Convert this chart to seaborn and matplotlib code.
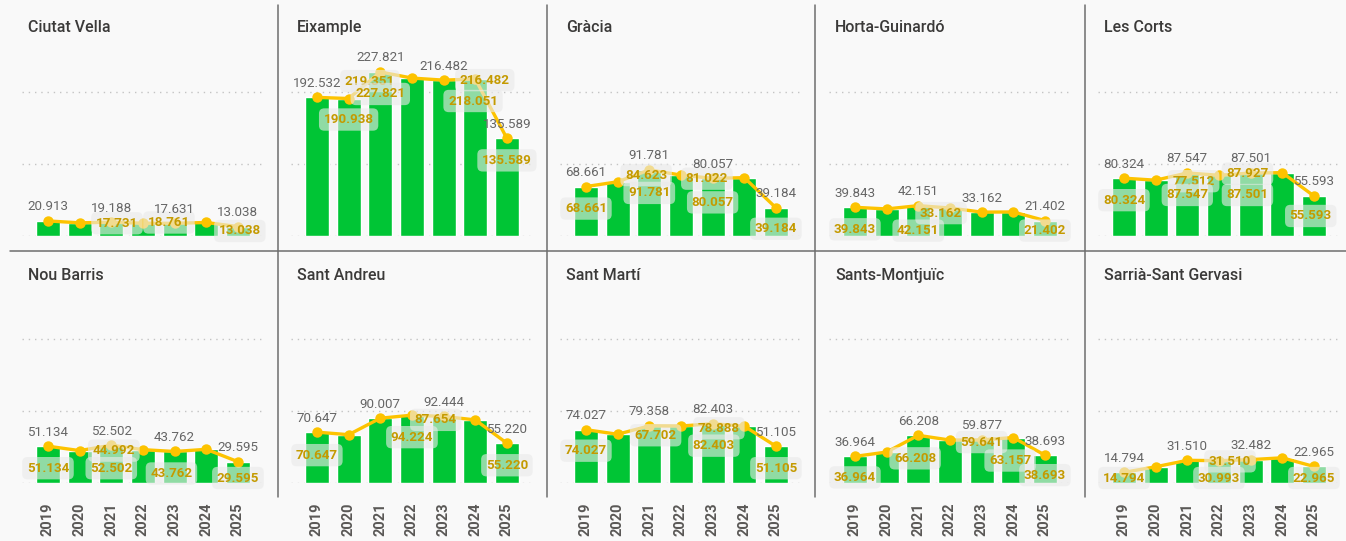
import matplotlib
matplotlib.use("Agg")
import matplotlib.pyplot as plt
from matplotlib.lines import Line2D
import seaborn as sns
import pandas as pd
import numpy as np

# ---------------- data ----------------
years = ["2019", "2020", "2021", "2022", "2023", "2024", "2025"]
districts = ["Ciutat Vella", "Eixample", "Gràcia", "Horta-Guinardó", "Les Corts",
             "Nou Barris", "Sant Andreu", "Sant Martí", "Sants-Montjuïc", "Sarrià-Sant Gervasi"]

ciutat_vella = [20913, 18300, 19188, 17731, 17631, 18761, 13038]
eixample = [192532, 190938, 227821, 219351, 216482, 218051, 135589]
gracia = [68661, 75300, 91781, 84623, 80057, 81022, 39184]
horta_guinardo = [39843, 37600, 42151, 38900, 33162, 33400, 21402]
les_corts = [80324, 77512, 87547, 84300, 87501, 87927, 55593]
nou_barris = [51134, 44992, 52502, 46300, 43762, 46800, 29595]
sant_andreu = [70647, 67100, 90007, 94224, 92444, 87654, 55220]
sant_marti = [74027, 67702, 79358, 79100, 82403, 78888, 51105]
sants_montjuic = [36964, 43000, 66208, 59641, 59877, 63157, 38693]
sarria_sant_gervasi = [14794, 22500, 31510, 30993, 32482, 35000, 22965]

series = [ciutat_vella, eixample, gracia, horta_guinardo, les_corts,
          nou_barris, sant_andreu, sant_marti, sants_montjuic, sarria_sant_gervasi]

# bar labels shown (indices)
bar_label_idx = [0, 2, 4, 6]

# line-label layout: (point index, x shift in category units, downward shift in px)
line_label_layout = [
    [(3, -0.82, 0), (5, -1.18, 0), (6, 0.06, 5)],
    [(3, -1.33, 3), (2, 0, 22), (1, 0, 21), (4, 1.3, 0), (5, -0.07, 22), (6, 0, 22)],
    [(3, -1.1, 0), (5, -1.18, 1), (0, 0, 22), (2, 0, 23), (4, 0, 24), (6, 0, 21)],
    [(0, 0, 22), (2, 0, 25), (4, -1.28, 1), (6, 0, 10)],
    [(1, 1.2, 1), (5, -1.1, 1), (0, 0, 22), (2, 0, 22), (4, -0.1, 22), (6, -0.1, 20)],
    [(0, 0, 22), (1, 1.08, 0), (2, 0, 23), (4, -0.1, 22), (6, 0, 17)],
    [(0, 0, 23), (3, 0, 22), (5, -1.25, 0), (6, 0, 22)],
    [(0, 0, 21), (1, 1.2, 1), (4, 0.04, 22), (5, -0.8, 2), (6, 0, 22)],
    [(0, 0, 21), (2, -0.1, 23), (3, 1.0, 2), (5, -0.1, 23), (6, 0, 20)],
    [(0, 0, 9), (2, 1.35, 1), (3, 0, 18), (6, 0, 13)],
]

# ---------------- style ----------------
BG = "#F9F9F9"
GREEN = "#00C535"
LINE = "#FDC300"
LINE_TXT = "#C49A00"
GRAY_TXT = "#666666"
TITLE = "#3B3A39"
SEP = "#6E6E6E"

sns.set_theme(style="white")
plt.rcParams["font.family"] = ["Roboto", "DejaVu Sans"]

W, H = 1346, 541
fig = plt.figure(figsize=(W / 100, H / 100), dpi=100, facecolor=BG)


def fmt(v):
    return f"{v:,}".replace(",", ".")


for k, (name, vals) in enumerate(zip(districts, series)):
    row, col = divmod(k, 5)
    base = 236 if row == 0 else 483
    ax = fig.add_axes([(col * 269 + 22) / W, (H - base) / H, 240 / W, 180 / H])
    ax.set_facecolor("none")

    df = pd.DataFrame({"year": years, "value": vals})
    sns.barplot(data=df, x="year", y="value", order=years, color=GREEN,
                saturation=1, width=0.76, ax=ax, zorder=2)
    sns.lineplot(x=np.arange(len(years)), y=vals, ax=ax, color=LINE, lw=2.4,
                 marker="o", markersize=7.5, markeredgewidth=0, zorder=3)

    ax.set_ylim(0, 250000)
    ax.set_xlim(-0.82, 6.76)
    ax.set_yticks([0, 100000, 200000])
    ax.yaxis.grid(True, color="#C4C4C4", linestyle=(0, (1, 3.5)), linewidth=1)
    ax.xaxis.grid(False)
    ax.set_axisbelow(True)
    for s in ax.spines.values():
        s.set_visible(False)
    ax.set_xlabel("")
    ax.set_ylabel("")
    ax.tick_params(left=False, labelleft=False, bottom=False, length=0)
    if row == 0:
        ax.tick_params(labelbottom=False)
    else:
        ax.tick_params(axis="x", pad=14)
        for t in ax.get_xticklabels():
            t.set_rotation(90)
            t.set_fontweight("bold")
            t.set_color("#5A5856")
            t.set_fontsize(10.5)
            t.set_va("top")

    # bar labels (gray)
    for i in bar_label_idx:
        ax.annotate(fmt(vals[i]), xy=(i, vals[i]), xytext=(0, 14),
                    textcoords="offset pixels", ha="center", va="center",
                    fontsize=9.6, color=GRAY_TXT, zorder=6)

    # line labels (gold, boxed)
    _, by = ax.transData.transform((0, 0))
    for (i, dx, dy) in line_label_layout[k]:
        _, py = ax.transData.transform((i, vals[i]))
        ly = max(py - dy, by + 5)
        ax.annotate(fmt(vals[i]), xy=(i + dx, vals[i]), xytext=(0, ly - py),
                    textcoords="offset pixels", ha="center", va="center",
                    fontsize=9.6, fontweight="bold", color=LINE_TXT, zorder=5,
                    bbox=dict(boxstyle="round,pad=0.35,rounding_size=0.4",
                              fc="#EAEAEA", ec="none", alpha=0.62))

    # panel title
    ty = 32 if row == 0 else 280
    fig.text((col * 269 + 28) / W, 1 - ty / H, name, fontsize=11.5,
             fontweight="medium", color=TITLE, va="baseline", ha="left")

# separators
for c in range(4):
    x = (277.5 + 269 * c) / W
    fig.add_artist(Line2D([x, x], [1 - 5 / H, 1 - 497 / H], color=SEP, lw=1.1))
fig.add_artist(Line2D([10 / W, 1], [1 - 250.5 / H, 1 - 250.5 / H], color=SEP, lw=1.1))

fig.savefig("out.png", dpi=100, facecolor=BG)
